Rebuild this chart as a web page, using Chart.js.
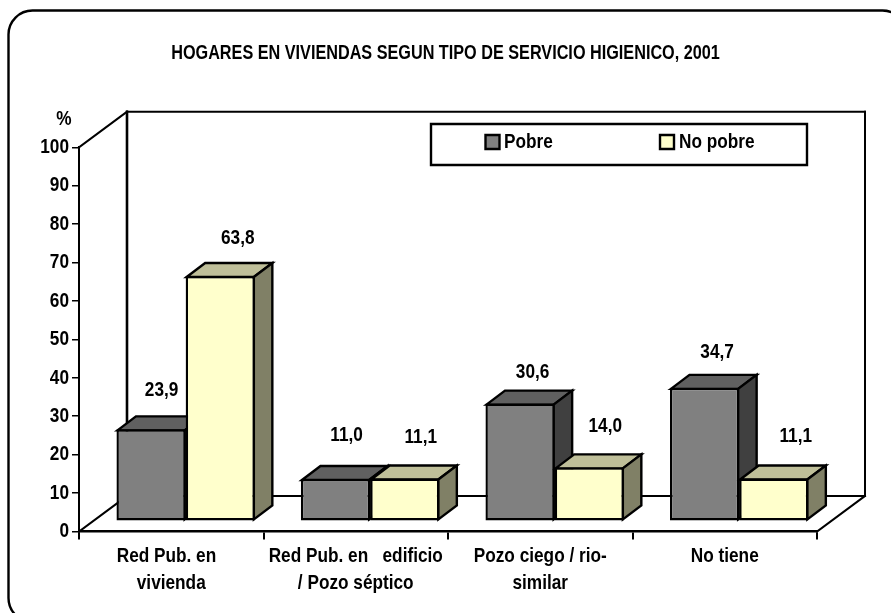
<!DOCTYPE html>
<html><head><meta charset="utf-8">
<style>html,body{margin:0;padding:0;background:#fff}canvas{display:block}</style>
<script src="https://cdn.jsdelivr.net/npm/chart.js@4"></script>
</head><body><canvas id="c" width="891" height="613"></canvas>
<script>
const chartTitle = 'HOGARES EN VIVIENDAS SEGUN TIPO DE SERVICIO HIGIENICO, 2001';
const categories = [['Red Pub. en  ','vivienda'],['Red Pub. en   edificio','/ Pozo séptico'],['Pozo ciego / rio-','similar'],['No tiene']];
const pobre = [23.9, 11.0, 30.6, 34.7];
const noPobre = [63.8, 11.1, 14.0, 11.1];
const FF = '"Liberation Sans",Arial,sans-serif';
const FS = 21, TFS = 19.8, NARROW = 0.82;
const INK = '#000';
const FLOOR = {x:48,y:-35.5};   // wall depth
const INSET = {x:14.4,y:-10.3};   // bars sit inside the floor
const BOX = {x:18.5,y:-14};     // bar depth
const FACES = [{top:'#606060',side:'#404040'},{top:'#BFBF99',side:'#808066'}];
const NUDGE = [
  [[10.5,-39],[11,-44],[12.5,-31.5],[12.5,-36]],
  [[17.5,-38],[16,-41],[16,-41],[22,-42]]
];
const canvas = document.getElementById('c');
const c2d = canvas.getContext('2d');
// No narrow face is installed: draw the real text horizontally condensed.
const rawFill = c2d.fillText.bind(c2d);
c2d.fillText = function(t,x,y){
  c2d.save();c2d.translate(x,y);c2d.scale(NARROW,1);rawFill(t,0,0);c2d.restore();
};
function poly(ctx,pts,fill){
  ctx.beginPath();pts.forEach((p,i)=>i?ctx.lineTo(p[0],p[1]):ctx.moveTo(p[0],p[1]));ctx.closePath();
  if(fill){ctx.fillStyle=fill;ctx.fill();}
  ctx.stroke();
}
function line(ctx,a,b,c,d,w){ctx.lineWidth=w;ctx.beginPath();ctx.moveTo(a,b);ctx.lineTo(c,d);ctx.stroke();}
const scene = {
  id:'scene',
  beforeDraw(chart){
    const ctx=chart.ctx;ctx.save();ctx.strokeStyle=INK;ctx.lineWidth=2.4;
    ctx.beginPath();ctx.roundRect(8.5,10.5,898,611.5,24);ctx.stroke();ctx.restore();
  },
  beforeDatasetsDraw(chart){
    const ctx=chart.ctx,{left,right,top,bottom}=chart.chartArea;
    const bx=FLOOR.x,by=FLOOR.y;
    ctx.save();ctx.strokeStyle=INK;ctx.lineCap='square';
    line(ctx,left,top,left+bx,top+by,2);
    line(ctx,left,bottom,left+bx,bottom+by,2);
    line(ctx,left+bx,top+by,left+bx,bottom+by,2.6);
    line(ctx,left+bx,top+by,right+bx,top+by,2);
    line(ctx,right+bx,top+by,right+bx,bottom+by,2);
    line(ctx,left+bx,bottom+by,right+bx,bottom+by,2);
    line(ctx,right,bottom,right+bx,bottom+by,2);
    ctx.restore();
    // series are painted left to right so each bar covers its neighbour's side face
    chart.data.datasets.forEach((ds,i)=>{
      const meta=chart.getDatasetMeta(i),f=FACES[i];
      ctx.save();ctx.translate(INSET.x,INSET.y);
      ctx.strokeStyle=INK;ctx.lineWidth=2.4;ctx.lineJoin='miter';
      meta.data.forEach(el=>{
        const {x,y,base,width}=el.getProps(['x','y','base','width'],true);
        const l=x-width/2+1,r=x+width/2-1,t=y+1,b=base-1;
        poly(ctx,[[l,t],[l+BOX.x,t+BOX.y],[r+BOX.x,t+BOX.y],[r,t]],f.top);
        poly(ctx,[[r,t],[r+BOX.x,t+BOX.y],[r+BOX.x,b+BOX.y],[r,b]],f.side);
      });
      meta.controller.draw();
      ctx.restore();
    });
  },
  beforeDatasetDraw(){return false;},
  afterDatasetsDraw(chart){
    const ctx=chart.ctx;
    ctx.save();
    ctx.fillStyle=INK;ctx.textAlign='center';ctx.textBaseline='middle';ctx.font='bold '+FS+'px '+FF;
    chart.data.datasets.forEach((ds,i)=>{
      chart.getDatasetMeta(i).data.forEach((el,j)=>{
        const n=NUDGE[i][j];
        ctx.fillText(ds.data[j].toFixed(1).replace('.',','),el.x+INSET.x+n[0],el.y+INSET.y+n[1]);
      });
    });
    ctx.fillText('%',64,119.5);
    // legend
    ctx.strokeStyle=INK;ctx.lineWidth=2.4;ctx.fillStyle='#fff';
    ctx.beginPath();ctx.rect(431,124,376,41);ctx.fill();ctx.stroke();
    const sw=[485.5,660],tx=[504,679];
    chart.data.datasets.forEach((ds,i)=>{
      ctx.lineWidth=2.4;ctx.fillStyle=ds.backgroundColor;
      ctx.beginPath();ctx.rect(sw[i],135,14,14);ctx.fill();ctx.stroke();
      ctx.fillStyle=INK;ctx.textAlign='left';ctx.fillText(ds.label,tx[i],142);
    });
    ctx.restore();
  }
};
new Chart(canvas,{
  type:'bar',
  data:{labels:categories,datasets:[
    {label:'Pobre',data:pobre,backgroundColor:'#808080',borderColor:INK,borderWidth:2.4,borderSkipped:false,clip:false},
    {label:'No pobre',data:noPobre,backgroundColor:'#FFFFCC',borderColor:INK,borderWidth:2.4,borderSkipped:false,clip:false}
  ]},
  plugins:[scene],
  options:{
    responsive:false,animation:false,
    layout:{padding:0},
    datasets:{bar:{barPercentage:1,categoryPercentage:0.75}},
    plugins:{
      legend:{display:false},tooltip:{enabled:false},
      title:{display:true,text:chartTitle,color:INK,font:{family:FF,size:TFS,weight:'bold',lineHeight:1.2},padding:{top:42,bottom:81.5}}
    },
    scales:{
      x:{
        grid:{drawOnChartArea:false,color:INK,tickLength:8,lineWidth:2,offset:true},
        border:{color:INK,width:2.4},
        ticks:{color:INK,font:{family:FF,size:FS,weight:'bold',lineHeight:27/FS},maxRotation:0,minRotation:0,autoSkip:false,padding:3.5},
        afterFit(s){s.height=613-531.5;}
      },
      y:{
        min:0,max:100,
        grid:{drawOnChartArea:false,color:INK,tickLength:7,lineWidth:1.5},
        border:{color:INK,width:2},
        ticks:{stepSize:10,color:INK,font:{family:FF,size:FS,weight:'bold'},padding:3,autoSkip:false},
        afterFit(s){s.width=79;}
      },
      margin:{
        position:'right',
        grid:{display:false},border:{display:false},ticks:{display:false},
        afterFit(s){s.width=74;}
      }
    }
  }
});
</script></body></html>
